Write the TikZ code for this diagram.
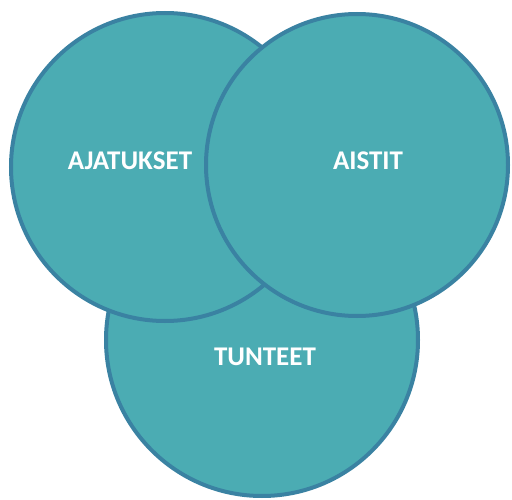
\documentclass[tikz,border=0pt]{standalone}
\usepackage{fontspec}
\setmainfont{Carlito}
\definecolor{circfill}{HTML}{4BACB3}
\definecolor{circline}{HTML}{3A82A2}
\tikzset{
  venn/.style={circle, fill=circfill, draw=circline, line width=4pt},
  lbl/.style={text=white, font=\fontsize{27}{30}\selectfont\bfseries, inner sep=0pt}
}
\begin{document}
\begin{tikzpicture}[x=1pt, y=-1pt]
  \useasboundingbox (0,0) rectangle (512,500);
  % circles, back to front
  \path[venn] (262,340) circle (156);
  \path[venn] (165,167) circle (154);
  \path[venn] (357,165) circle (151);
  % labels
  \node[lbl] (ajatukset) at (130,161) {AJATUKSET};
  \node[lbl] (aistit) at (368,161) {AISTIT};
  \node[lbl] (tunteet) at (265,357) {TUNTEET};
\end{tikzpicture}
\end{document}
